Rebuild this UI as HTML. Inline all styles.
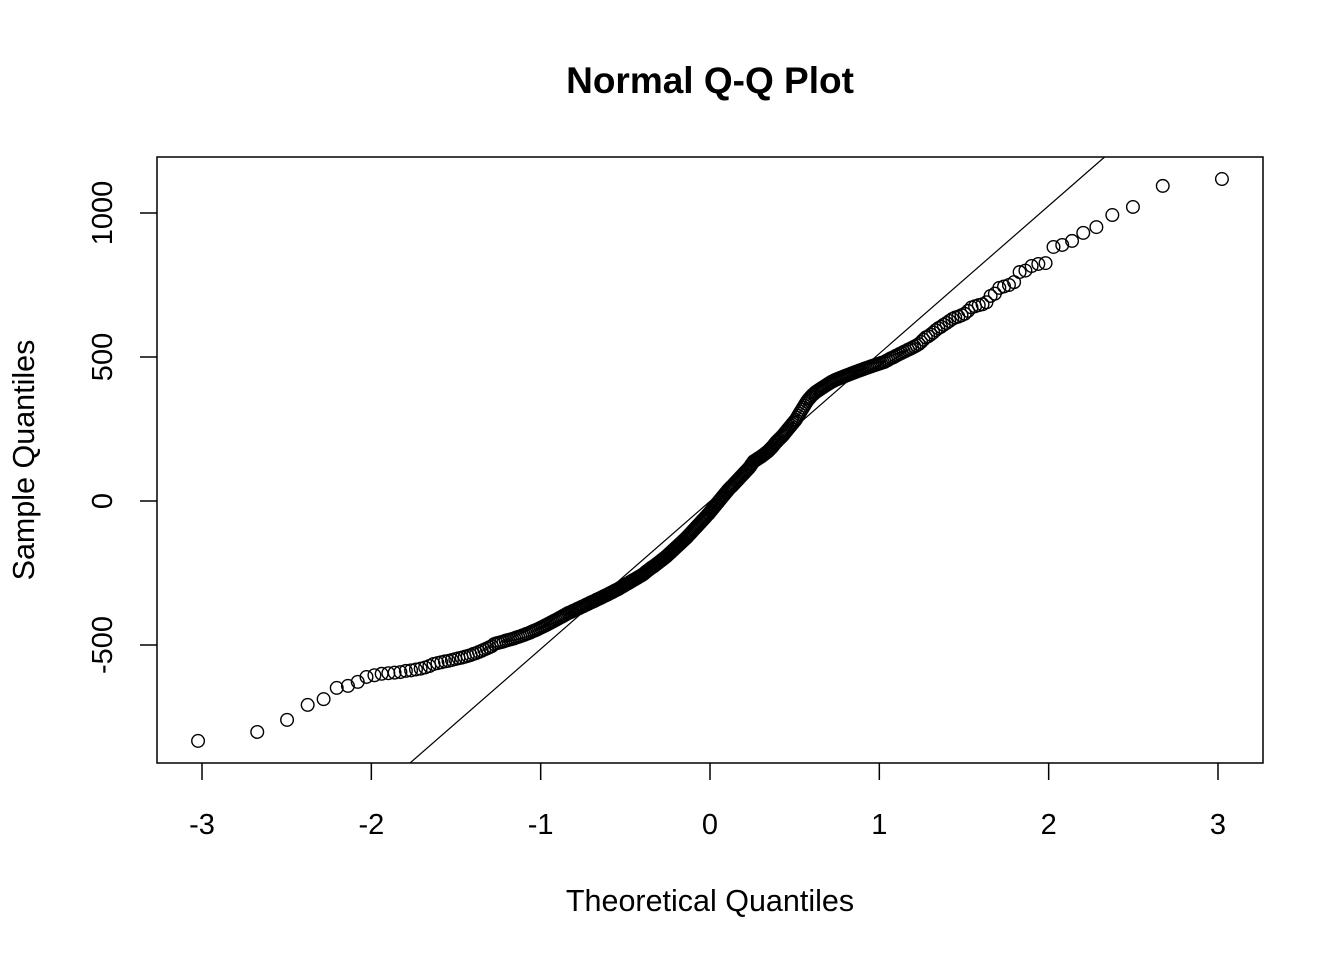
<!DOCTYPE html>
<html><head><meta charset="utf-8"><style>
html,body{margin:0;padding:0;background:#fff;width:1344px;height:960px;overflow:hidden}
svg{display:block;font-family:"Liberation Sans",Arial,sans-serif}
</style></head><body>
<svg id="chart" width="1344" height="960" viewBox="0 0 1344 960">
<rect x="0" y="0" width="1344" height="960" fill="#fff"/>
<text x="710" y="93" text-anchor="middle" font-size="37" font-weight="bold">Normal Q-Q Plot</text>
<text x="710" y="911" text-anchor="middle" font-size="30.5">Theoretical Quantiles</text>
<text transform="translate(34,460) rotate(-90)" text-anchor="middle" font-size="30.5">Sample Quantiles</text>
<rect x="157" y="157" width="1106" height="606" fill="none" stroke="#000" stroke-width="1.5"/>
<g id="xaxis"></g>
<g id="yaxis"></g>
<g id="lineg"></g>
<g id="pts"></g>
</svg>
<script>
const xTicks = [-3, -2, -1, 0, 1, 2, 3];
const yTicks = [-500, 0, 500, 1000];
const lineIntercept = -1;
const lineSlope = 513;
const sampleLow = [-833,-802,-760,-708,-688,-649,-642,-628,-611,-605,-600,-598,-596,-594,-590,-588,-585,-582,-578,-573];
const sampleMid = [
-566,-563,-560,-557,-555,-552,-549,-546,-544,-541,-538,-535,-531,-528,-524,-520,-516,-512,-508,-504,
-497,-494,-492,-490,-488,-485,-483,-481,-479,-477,-474,-472,-470,-467,-465,-462,-460,-457,-454,-451,
-449,-446,-443,-440,-437,-434,-431,-428,-425,-422,-419,-416,-413,-410,-407,-404,-401,-398,-395,-392,
-389,-387,-385,-382,-380,-378,-375,-373,-371,-368,-366,-364,-361,-359,-357,-354,-352,-350,-348,-346,
-343,-341,-339,-337,-335,-332,-330,-328,-326,-324,-321,-319,-317,-315,-312,-310,-308,-306,-303,-301,
-298,-296,-293,-291,-288,-286,-284,-281,-279,-276,-274,-272,-269,-267,-264,-262,-260,-257,-255,-252,
-248,-245,-242,-239,-236,-233,-230,-228,-225,-222,-219,-216,-213,-210,-207,-204,-201,-198,-195,-192,
-188,-185,-181,-178,-174,-171,-167,-164,-160,-157,-153,-150,-146,-143,-139,-136,-132,-129,-125,-121,
-117,-113,-109,-105,-101,-97,-93,-89,-85,-81,-77,-73,-69,-65,-61,-57,-53,-49,-45,-41,
-36,-32,-27,-23,-18,-14,-9,-5,0,4,9,13,18,22,27,31,36,40,44,48,
51,55,59,63,67,71,75,79,83,87,91,95,99,103,107,111,115,120,126,131,
137,139,142,144,147,149,152,154,157,160,163,166,169,172,176,180,184,188,193,198,
203,207,211,215,219,223,227,232,237,242,247,252,257,262,267,272,277,282,289,296,
303,310,317,324,331,338,345,351,356,361,366,370,374,378,381,384,387,390,393,396,
399,402,405,408,411,414,416,419,421,423,425,427,429,431,433,435,437,439,441,443,
445,447,449,451,453,455,457,459,461,463,465,467,469,471,473,475,477,479,481,483,
487,490,494,497,500,504,507,511,514,518,521,525,528,532,536,540,545,552,560,568];
const sampleHigh = [572,578,585,593,600,605,612,618,625,632,637,640,645,650,660,672,676,680,683,690,
712,720,740,745,750,760,795,800,816,823,826,882,889,903,931,951,993,1021,1094,1118];

const NS = 'http://www.w3.org/2000/svg';
const X0 = 710, XS = 169.33, Y0 = 501, YS = 0.288;
const xs = v => X0 + v * XS;
const ys = v => Y0 - v * YS;
const xinv = px => (px - X0) / XS;
const yinv = py => (Y0 - py) / YS;

function qnorm(p){
  const a=[-3.969683028665376e+01,2.209460984245205e+02,-2.759285104469687e+02,1.383577518672690e+02,-3.066479806614716e+01,2.506628277459239e+00];
  const b=[-5.447609879822406e+01,1.615858368580409e+02,-1.556989798598866e+02,6.680131188771972e+01,-1.328068155288572e+01];
  const c=[-7.784894002430293e-03,-3.223964580411365e-01,-2.400758277161838e+00,-2.549732539343734e+00,4.374664141464968e+00,2.938163982698783e+00];
  const d=[7.784695709041462e-03,3.224671290700398e-01,2.445134137142996e+00,3.754408661907416e+00];
  const pl=0.02425; let q,r;
  if(p<pl){q=Math.sqrt(-2*Math.log(p));return (((((c[0]*q+c[1])*q+c[2])*q+c[3])*q+c[4])*q+c[5])/((((d[0]*q+d[1])*q+d[2])*q+d[3])*q+1);}
  if(p>1-pl){q=Math.sqrt(-2*Math.log(1-p));return -(((((c[0]*q+c[1])*q+c[2])*q+c[3])*q+c[4])*q+c[5])/((((d[0]*q+d[1])*q+d[2])*q+d[3])*q+1);}
  q=p-0.5;r=q*q;return (((((a[0]*r+a[1])*r+a[2])*r+a[3])*r+a[4])*r+a[5])*q/(((((b[0]*r+b[1])*r+b[2])*r+b[3])*r+b[4])*r+1);
}
function mk(tag, attrs, parent){const e=document.createElementNS(NS,tag);for(const k in attrs)e.setAttribute(k,attrs[k]);parent.appendChild(e);return e;}

const samples = sampleLow.concat(sampleMid, sampleHigh).slice().sort((a,b)=>a-b);
const n = samples.length;

const xa = document.getElementById('xaxis');
xTicks.forEach(t=>{
  const tk = mk('line',{x1:xs(t),x2:xs(t),y1:763,y2:780,stroke:'#000','stroke-width':1.5},xa);
  
  
  const lb = mk('text',{x:xs(t),y:834,'text-anchor':'middle','font-size':29},xa);
  lb.textContent = String(t);
  
  
});
const ya = document.getElementById('yaxis');
yTicks.forEach(t=>{
  const tk = mk('line',{x1:140,x2:157,y1:ys(t),y2:ys(t),stroke:'#000','stroke-width':1.5},ya);
  
  
  const lb = mk('text',{transform:`translate(112,${ys(t)}) rotate(-90)`,'text-anchor':'middle','font-size':29},ya);
  lb.textContent = String(t);
  
  
});

// clip the qq-line to the plot box analytically
const qMin = xinv(157), qMax = xinv(1263), vMin = yinv(763), vMax = yinv(157);
let qa = Math.max(qMin, (vMin - lineIntercept) / lineSlope);
let qb = Math.min(qMax, (vMax - lineIntercept) / lineSlope);
const lg = document.getElementById('lineg');
const ln = mk('line',{x1:xs(qa),y1:ys(lineIntercept+lineSlope*qa),x2:xs(qb),y2:ys(lineIntercept+lineSlope*qb),stroke:'#000','stroke-width':1.2},lg);



const pg = document.getElementById('pts');
samples.forEach((v,i)=>{
  const q = qnorm((i+1-0.5)/n);
  const c = mk('circle',{cx:xs(q),cy:ys(v),r:6.3,fill:'none',stroke:'#000','stroke-width':1.4},pg);
  
  
});
</script>
</body></html>
